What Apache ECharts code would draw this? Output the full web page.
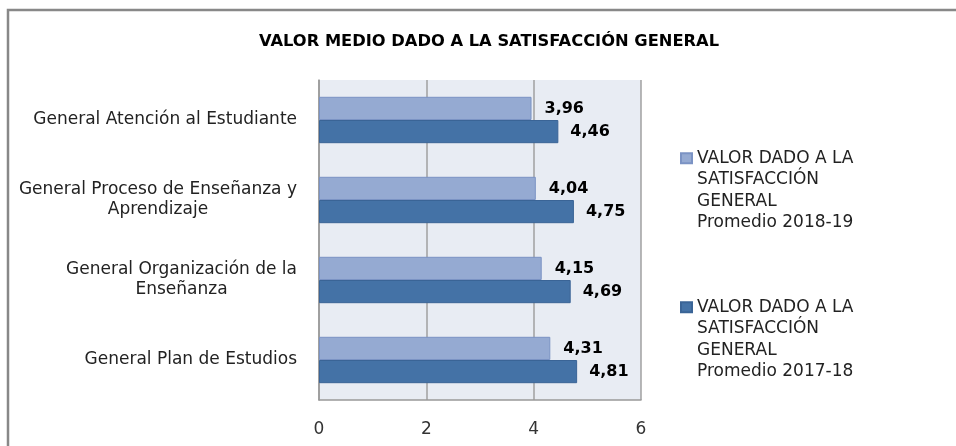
<!DOCTYPE html>
<html>
<head>
<meta charset="utf-8">
<script src="https://cdn.jsdelivr.net/npm/echarts@6/dist/echarts.min.js"></script>
<style>
  html, body { margin: 0; padding: 0; background: #fff; }
  #chart { width: 956px; height: 446px; }
</style>
</head>
<body>
<div id="chart"></div>
<script>
// categorías (de arriba a abajo)
const categories = [
  'General Atención al Estudiante',
  'General Proceso de Enseñanza y\nAprendizaje',
  'General Organización de la\nEnseñanza',
  'General Plan de Estudios'
];
const seriesNames = [
  'VALOR DADO A LA\nSATISFACCIÓN\nGENERAL\nPromedio 2018-19',
  'VALOR DADO A LA\nSATISFACCIÓN\nGENERAL\nPromedio 2017-18'
];
const values1819 = [3.96, 4.04, 4.15, 4.31];
const values1718 = [4.46, 4.75, 4.69, 4.81];
const xTicks = [0, 2, 4, 6];

const font = 'DejaVu Sans';
let chart = echarts.init(document.getElementById('chart'));

// etiqueta con coma decimal
const fmt = p => p.value.toFixed(2).replace('.', ',');

// cada línea centrada dentro del bloque alineado a la derecha
const catLabel = v => v.split('\n').map(l => '{c|' + l + '}').join('\n');

chart.setOption({
  animation: false,
  title: {
    text: 'VALOR MEDIO DADO A LA SATISFACCIÓN GENERAL',
    left: 484,
    top: 29,
    textAlign: 'center',
    textStyle: { fontFamily: font, fontSize: 16.3, fontWeight: 'bold', color: '#000' }
  },
  graphic: [{
    type: 'rect',
    shape: { x: 8, y: 10, width: 1000, height: 500 },
    style: { fill: 'none', stroke: '#888', lineWidth: 2.5 },
    silent: true
  }],
  legend: {
    orient: 'vertical',
    left: 680,
    top: 83,
    padding: 0,
    itemWidth: 11,
    itemHeight: 10,
    itemGap: -1.5,
    icon: 'rect',
    // tres líneas vacías arriba para que el icono quede a la altura de la primera línea
    formatter: name => '\n\n\n' + name,
    textStyle: { fontFamily: font, fontSize: 17, color: '#222', lineHeight: 21.5 },
    data: seriesNames
  },
  grid: { left: 319, right: 315, top: 80, bottom: 46 },
  xAxis: {
    type: 'value',
    min: 0,
    max: 6,
    interval: 2,
    axisLine: { show: true, lineStyle: { color: '#999', width: 1.5 } },
    axisTick: { show: false },
    splitLine: { show: true, lineStyle: { color: '#a0a0a0', width: 1.5 } },
    axisLabel: {
      margin: 21, fontFamily: font, fontSize: 17, color: '#333',
      formatter: v => xTicks.includes(v) ? String(v) : ''
    }
  },
  yAxis: {
    type: 'category',
    inverse: true,
    data: categories,
    axisLine: { show: true, lineStyle: { color: '#999', width: 1.5 } },
    axisTick: { show: false },
    splitArea: { show: true, areaStyle: { color: ['#e8ecf3', '#e8ecf3'] } },
    axisLabel: {
      margin: 22,
      lineHeight: 20,
      formatter: catLabel,
      rich: {
        c: { fontFamily: font, fontSize: 17, color: '#222', align: 'center', lineHeight: 20 }
      }
    }
  },
  series: [
    {
      name: seriesNames[0],
      type: 'bar',
      data: values1819,
      barGap: '0%',
      barCategoryGap: '42%',
      itemStyle: { color: '#95aad2', borderColor: '#7b93c4', borderWidth: 1 },
      label: {
        show: true, position: 'right', distance: 13, formatter: fmt,
        fontFamily: font, fontSize: 16, fontWeight: 'bold', color: '#000'
      }
    },
    {
      name: seriesNames[1],
      type: 'bar',
      data: values1718,
      itemStyle: { color: '#4472a6', borderColor: '#3a6496', borderWidth: 1 },
      label: {
        show: true, position: 'right', distance: 12, formatter: fmt,
        fontFamily: font, fontSize: 16, fontWeight: 'bold', color: '#000'
      }
    }
  ]
});
</script>
</body>
</html>
